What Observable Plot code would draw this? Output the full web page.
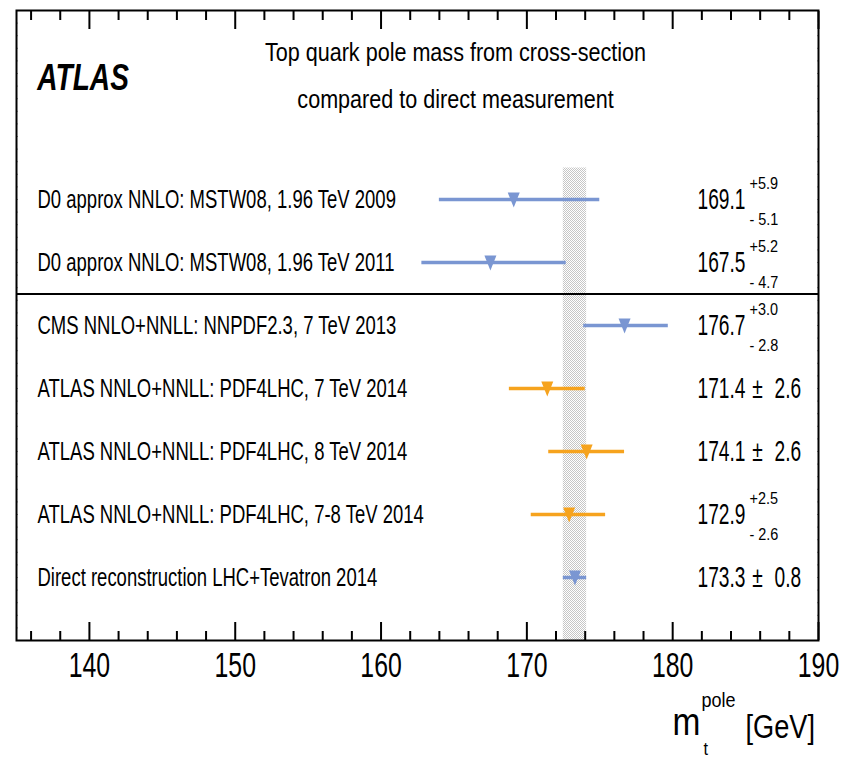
<!DOCTYPE html>
<html>
<head>
<meta charset="utf-8">
<script src="https://cdn.jsdelivr.net/npm/d3@7"></script>
<script src="https://cdn.jsdelivr.net/npm/@observablehq/plot@0.6"></script>
<style>
  body { margin: 0; background: #fff; }
  #chart svg { display: block; }
</style>
</head>
<body>
<div id="chart"></div>
<script>
// Measurements of the top quark pole mass (GeV), top to bottom
const labels = [
  "D0 approx NNLO: MSTW08, 1.96 TeV 2009",
  "D0 approx NNLO: MSTW08, 1.96 TeV 2011",
  "CMS NNLO+NNLL: NNPDF2.3, 7 TeV 2013",
  "ATLAS NNLO+NNLL: PDF4LHC, 7 TeV 2014",
  "ATLAS NNLO+NNLL: PDF4LHC, 8 TeV 2014",
  "ATLAS NNLO+NNLL: PDF4LHC, 7-8 TeV 2014",
  "Direct reconstruction LHC+Tevatron 2014"
];
const values = [169.1, 167.5, 176.7, 171.4, 174.1, 172.9, 173.3];
const errUp = [5.9, 5.2, 3.0, 2.6, 2.6, 2.5, 0.8];
const errDown = [5.1, 4.7, 2.8, 2.6, 2.6, 2.6, 0.8];
const groups = ["other", "other", "other", "ATLAS", "ATLAS", "ATLAS", "other"];

// Axis ticks
const majorTicks = [140, 150, 160, 170, 180, 190];
const minorTicks = d3.range(136, 190.01, 2).filter(t => t % 10 !== 0);
const sideTicks = d3.range(-3, 7.001, 0.2);

const title = ["Top quark pole mass from cross-section", "compared to direct measurement"];

const rows = labels.map((label, i) => ({
  i, label,
  value: values[i],
  up: errUp[i],
  down: errDown[i],
  lo: values[i] - errDown[i],
  hi: values[i] + errUp[i],
  group: groups[i],
  symmetric: errUp[i] === errDown[i]
}));
const asym = rows.filter(d => !d.symmetric);
const sym = rows.filter(d => d.symmetric);
const direct = rows[rows.length - 1];
const band = [{x1: direct.lo, x2: direct.hi}];

// Downward-pointing triangle marker
const triangleDown = {
  draw(context) {
    context.moveTo(-6, -7);
    context.lineTo(6, -7);
    context.lineTo(0, 8);
    context.closePath();
  }
};

// font sizes, and the horizontal squeeze applied to each (a narrow sans look)
const FS = {atlas: 37, label: 25, title: 26, value: 29, script: 17, tick: 34.5, unit: 34, m: 38, pole: 20, sub: 18};
const squeeze = {37: 0.76, 25: 0.74, 26: 0.83, 29: 0.66, 17: 0.85, 34.5: 0.72, 34: 0.8, 38: 0.88, 20: 0.9, 18: 0.9};

const font = "'Liberation Sans', Arial, Helvetica, sans-serif";

const chart = Plot.plot({
  width: 843,
  height: 758,
  marginLeft: 16,
  marginRight: 25,
  marginTop: 10,
  marginBottom: 118,
  style: {fontFamily: font, background: "white", color: "black"},
  x: {domain: [135, 190]},
  y: {domain: [-3, 7], reverse: true},
  color: {domain: ["other", "ATLAS"], range: ["#7a96d2", "#f6a31e"]},
  marks: [
    // direct-measurement uncertainty band
    Plot.rect(band, {x1: "x1", x2: "x2", y1: -0.5, y2: 7, fill: "url(#checker)"}),
    // separator between Tevatron and LHC results
    Plot.ruleY([1.5], {stroke: "black", strokeWidth: 2}),
    // error bars and central values
    Plot.ruleY(rows, {y: "i", x1: "lo", x2: "hi", stroke: "group", strokeWidth: 3.5}),
    Plot.dot(rows, {x: "value", y: "i", fill: "group", stroke: null, symbol: triangleDown, r: 6}),
    // row labels
    Plot.text(rows, {y: "i", text: "label", frameAnchor: "left", dx: 21, textAnchor: "start", lineAnchor: "middle", fontSize: FS.label}),
    // value annotations
    Plot.text(rows, {y: "i", text: d => d.value.toFixed(1), frameAnchor: "right", dx: -121, textAnchor: "start", lineAnchor: "middle", fontSize: FS.value}),
    Plot.text(asym, {y: "i", text: d => "+" + d.up.toFixed(1), frameAnchor: "right", dx: -69, dy: -16, textAnchor: "start", lineAnchor: "middle", fontSize: FS.script}),
    Plot.text(asym, {y: "i", text: d => "- " + d.down.toFixed(1), frameAnchor: "right", dx: -69, dy: 20, textAnchor: "start", lineAnchor: "middle", fontSize: FS.script}),
    Plot.text(sym, {y: "i", text: () => "\u00b1", frameAnchor: "right", dx: -61, textAnchor: "middle", lineAnchor: "middle", fontSize: FS.value}),
    Plot.text(sym, {y: "i", text: d => d.up.toFixed(1), frameAnchor: "right", dx: -44, textAnchor: "start", lineAnchor: "middle", fontSize: FS.value}),
    // titles
    Plot.text(["ATLAS"], {frameAnchor: "top-left", dx: 21, dy: 68, text: d => d, textAnchor: "start", lineAnchor: "middle", fontSize: FS.atlas, fontWeight: "bold", fontStyle: "italic"}),
    Plot.text([title[0]], {frameAnchor: "top", dx: 38, dy: 42, text: d => d, lineAnchor: "middle", fontSize: FS.title}),
    Plot.text([title[1]], {frameAnchor: "top", dx: 38, dy: 89, text: d => d, lineAnchor: "middle", fontSize: FS.title}),
    // axes: ticks point inward on all sides
    Plot.axisX(majorTicks, {anchor: "bottom", tickSize: -18, tickFormat: () => "", label: null, strokeWidth: 2}),
    Plot.axisX(minorTicks, {anchor: "bottom", tickSize: -9, tickFormat: () => "", label: null, strokeWidth: 2}),
    Plot.axisX(majorTicks, {anchor: "top", tickSize: -18, tickFormat: () => "", label: null, strokeWidth: 2}),
    Plot.axisX(minorTicks, {anchor: "top", tickSize: -9, tickFormat: () => "", label: null, strokeWidth: 2}),
    Plot.axisY(sideTicks, {anchor: "left", tickSize: -2, tickFormat: () => "", label: null, stroke: "#999"}),
    Plot.axisY(sideTicks, {anchor: "right", tickSize: -2, tickFormat: () => "", label: null, stroke: "#999"}),
    Plot.text(majorTicks, {x: d => d, text: d => String(d), frameAnchor: "bottom", dy: 25, lineAnchor: "middle", fontSize: FS.tick}),
    Plot.frame({stroke: "black", strokeWidth: 2}),
    // axis title
    Plot.text(["m"], {frameAnchor: "bottom-right", dx: -146, dy: 82, text: d => d, textAnchor: "start", lineAnchor: "middle", fontSize: FS.m}),
    Plot.text(["pole"], {frameAnchor: "bottom-right", dx: -117, dy: 60, text: d => d, textAnchor: "start", lineAnchor: "middle", fontSize: FS.pole}),
    Plot.text(["t"], {frameAnchor: "bottom-right", dx: -115, dy: 109, text: d => d, textAnchor: "start", lineAnchor: "middle", fontSize: FS.sub}),
    Plot.text(["[GeV]"], {frameAnchor: "bottom-right", dx: -73, dy: 87, text: d => d, textAnchor: "start", lineAnchor: "middle", fontSize: FS.unit})
  ]
});

// checkerboard fill used by the band
const ns = "http://www.w3.org/2000/svg";
const defs = document.createElementNS(ns, "defs");
defs.innerHTML = `<pattern id="checker" width="2" height="2" patternUnits="userSpaceOnUse">
  <rect width="2" height="2" fill="#ffffff"/>
  <rect width="1" height="1" fill="#c6c6c6"/>
  <rect x="1" y="1" width="1" height="1" fill="#c6c6c6"/>
</pattern>`;
chart.insertBefore(defs, chart.firstChild);

document.getElementById("chart").appendChild(chart);

// condense text horizontally around its own anchor point
chart.querySelectorAll("text").forEach(t => {
  const holder = t.closest("[font-size]");
  const fs = holder ? parseFloat(holder.getAttribute("font-size")) : NaN;
  const s = squeeze[fs];
  if (!s || !t.textContent) return;
  const box = t.getBBox();
  const anchor = getComputedStyle(t).textAnchor;
  const ax = anchor === "middle" ? box.x + box.width / 2 : anchor === "end" ? box.x + box.width : box.x;
  const tr = t.getAttribute("transform") || "";
  t.setAttribute("transform", `${tr} translate(${ax},0) scale(${s},1) translate(${-ax},0)`);
});
</script>
</body>
</html>
